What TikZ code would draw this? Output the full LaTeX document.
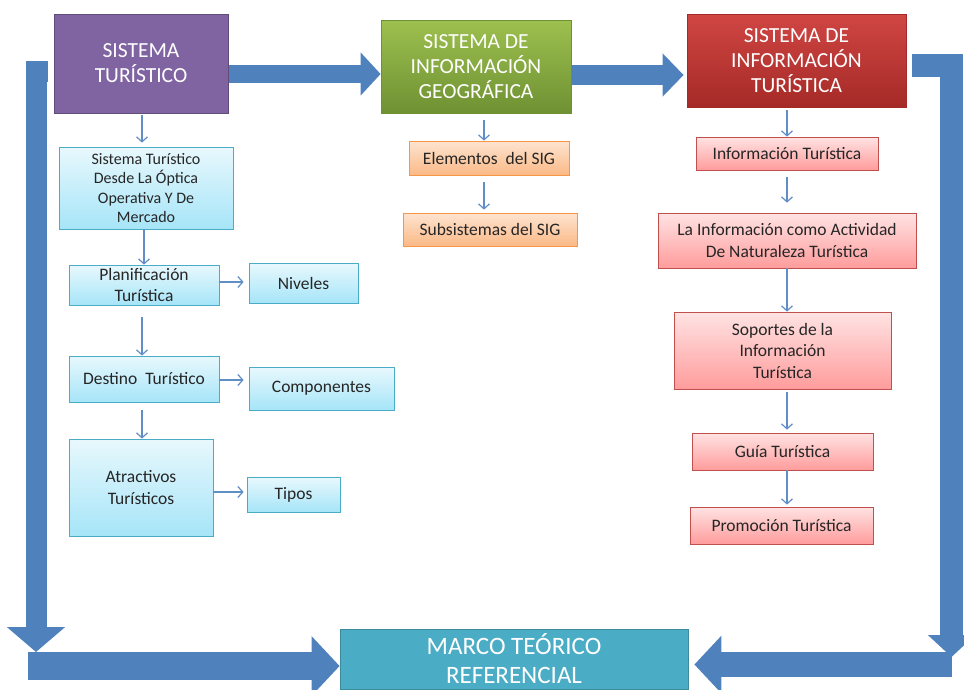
\documentclass[tikz,border=0pt]{standalone}
\usepackage{fontspec}
\setmainfont{Carlito}
\usetikzlibrary{arrows.meta,shadows,backgrounds}

\definecolor{bandBlue}{HTML}{4F81BD}
\definecolor{turPurple}{HTML}{8064A2}
\definecolor{geoGreenTop}{HTML}{9DC04F}
\definecolor{geoGreenBot}{HTML}{6F9133}
\definecolor{infRedTop}{HTML}{D04643}
\definecolor{infRedBot}{HTML}{A52A27}
\definecolor{marcoTeal}{HTML}{4BACC6}
\definecolor{cyanTop}{HTML}{E8F8FD}
\definecolor{cyanBot}{HTML}{A6E5F8}
\definecolor{cyanLine}{HTML}{4BACC6}
\definecolor{orangeTop}{HTML}{FDE4D0}
\definecolor{orangeBot}{HTML}{FBB986}
\definecolor{orangeLine}{HTML}{F79646}
\definecolor{pinkTop}{HTML}{FFE3E3}
\definecolor{pinkBot}{HTML}{FF9C9C}
\definecolor{pinkLine}{HTML}{C0504D}

\tikzset{every picture/.style={line width=0.75pt}}
\tikzset{
	titlebox/.style={align=center, inner sep=0pt, text=white, font=\fontsize{21.5}{25}\selectfont},
	subbox/.style={align=center, inner sep=0pt, text=black!85, font=\fontsize{17.5}{21.5}\selectfont,
		drop shadow={shadow xshift=1.2pt, shadow yshift=-1.2pt, opacity=0.25}},
	cyanbox/.style={subbox, draw=cyanLine, top color=cyanTop, bottom color=cyanBot},
	orangebox/.style={subbox, draw=orangeLine, top color=orangeTop, bottom color=orangeBot},
	pinkbox/.style={subbox, draw=pinkLine, top color=pinkTop, bottom color=pinkBot},
	thinarrow/.style={draw=bandBlue!90!white, line width=1.2pt, -{Straight Barb[length=5pt,width=11pt]}},
	bigband/.style={draw=bandBlue, line join=miter}
}

\begin{document}
\begin{tikzpicture}[x=1pt,y=1pt,yscale=-1,xscale=1]
	\useasboundingbox (0,0) rectangle (964,689);

	% Title boxes
	\node [titlebox, fill=turPurple, draw=turPurple!75!black, minimum width=174pt, minimum height=99pt] (sisTur) at (141,63.5) {SISTEMA\\TURÍSTICO};
	\node [titlebox, top color=geoGreenTop, bottom color=geoGreenBot, draw=geoGreenBot, minimum width=190pt, minimum height=93pt] (sisGeo) at (476,66.5) {SISTEMA DE\\INFORMACIÓN\\GEOGRÁFICA};
	\node [titlebox, top color=infRedTop, bottom color=infRedBot, draw=infRedBot, minimum width=219pt, minimum height=93pt] (sisInf) at (796.5,60.5) {SISTEMA DE\\INFORMACIÓN\\TURÍSTICA};
	\node [titlebox, fill=marcoTeal, draw=marcoTeal!80!black, minimum width=348pt, minimum height=60pt, font=\fontsize{25}{29}\selectfont] (marco) at (514,659) {MARCO TEÓRICO\\REFERENCIAL};

	% Block arrows, behind the boxes
	\begin{scope}[on background layer]
	\draw [bigband, line width=18pt, -{Triangle[width=42pt,length=20pt]}] (sisTur.east |- 0,74) -- (sisGeo.west |- 0,74);
	\draw [bigband, line width=20pt, -{Triangle[width=42pt,length=21pt]}, shorten >=3pt] (sisGeo.east |- 0,75) -- (sisInf.west |- 0,75);
	\draw [bigband, line width=21pt, -{Triangle[width=57pt,length=25pt]}] ([xshift=-6pt]sisTur.west |- 0,71.5) -| (36,652);
	\draw [bigband, line width=28pt, -{Triangle[width=58pt,length=28pt]}] (28,666) -- (marco.west |- 0,666);
	\draw [bigband, line width=23pt, -{Triangle[width=46pt,length=22pt]}] ([xshift=6pt]sisInf.east |- 0,65.5) -| (951.5,657);
	\draw [bigband, line width=25pt, -{Triangle[width=56pt,length=27pt]}, shorten >=6pt] (952,664.5) -- (marco.east |- 0,664.5);
	\end{scope}

	% Sistema turistico branch
	\node [cyanbox, minimum width=174pt, minimum height=82pt, font=\fontsize{16}{19.5}\selectfont] (mercado) at (146,188) {Sistema Turístico\\Desde La Óptica\\Operativa Y De\\Mercado};
	\node [cyanbox, minimum width=150pt, minimum height=40pt] (planif) at (144,285) {Planificación\\Turística};
	\node [cyanbox, minimum width=109pt, minimum height=40pt] (niveles) at (303.5,283) {Niveles};
	\node [cyanbox, minimum width=150pt, minimum height=46pt] (destino) at (144,379) {Destino\ \ Turístico};
	\node [cyanbox, minimum width=145pt, minimum height=43pt] (compo) at (321.5,388.5) {Componentes};
	\node [cyanbox, minimum width=144pt, minimum height=97pt] (atract) at (141,487.5) {Atractivos\\Turísticos};
	\node [cyanbox, minimum width=93pt, minimum height=35pt] (tipos) at (293.5,494.5) {Tipos};

	% SIG branch
	\node [orangebox, minimum width=160pt, minimum height=34pt] (elem) at (489,158) {Elementos\ \ del SIG};
	\node [orangebox, minimum width=174pt, minimum height=33pt] (subs) at (490,229.5) {Subsistemas del SIG};

	% Informacion turistica branch
	\node [pinkbox, minimum width=182pt, minimum height=33pt] (infTur) at (787,153.5) {Información Turística};
	\node [pinkbox, minimum width=258pt, minimum height=55pt] (laInf) at (787,240.5) {La Información como Actividad\\De Naturaleza Turística};
	\node [pinkbox, minimum width=217pt, minimum height=77pt] (soport) at (782.5,350.5) {Soportes de la\\Información\\Turística};
	\node [pinkbox, minimum width=181pt, minimum height=37pt] (guia) at (782.5,451.5) {Guía Turística};
	\node [pinkbox, minimum width=183pt, minimum height=37pt] (promo) at (781.5,525.5) {Promoción Turística};

	% Thin arrows
	\draw [thinarrow, shorten <=2pt, shorten >=4pt] (sisTur.south -| 142,0) -- (mercado.north -| 142,0);
	\draw [thinarrow] (mercado.south -| 144,0) -- (planif.north -| 144,0);
	\draw [thinarrow, shorten <=12pt] (planif.south -| 142,0) -- (destino.north -| 142,0);
	\draw [thinarrow, shorten <=8pt] (destino.south -| 142,0) -- (atract.north -| 142,0);
	\draw [thinarrow, shorten >=5pt] (planif.east |- 0,282) -- (niveles.west |- 0,282);
	\draw [thinarrow, shorten >=5pt] (destino.east |- 0,380) -- (compo.west |- 0,380);
	\draw [thinarrow, shorten >=3pt] (atract.east |- 0,492) -- (tipos.west |- 0,492);

	\draw [thinarrow, shorten <=7pt] (sisGeo.south -| 484,0) -- (elem.north -| 484,0);
	\draw [thinarrow, shorten <=7pt, shorten >=3pt] (elem.south -| 484,0) -- (subs.north -| 484,0);

	\draw [thinarrow, shorten <=3pt] (sisInf.south -| 787,0) -- (infTur.north -| 787,0);
	\draw [thinarrow, shorten <=7pt, shorten >=10pt] (infTur.south -| 787,0) -- (laInf.north -| 787,0);
	\draw [thinarrow] (laInf.south -| 787,0) -- (soport.north -| 787,0);
	\draw [thinarrow, shorten <=3pt, shorten >=3pt] (soport.south -| 787,0) -- (guia.north -| 787,0);
	\draw [thinarrow, shorten >=2pt] (guia.south -| 787,0) -- (promo.north -| 787,0);
\end{tikzpicture}
\end{document}
